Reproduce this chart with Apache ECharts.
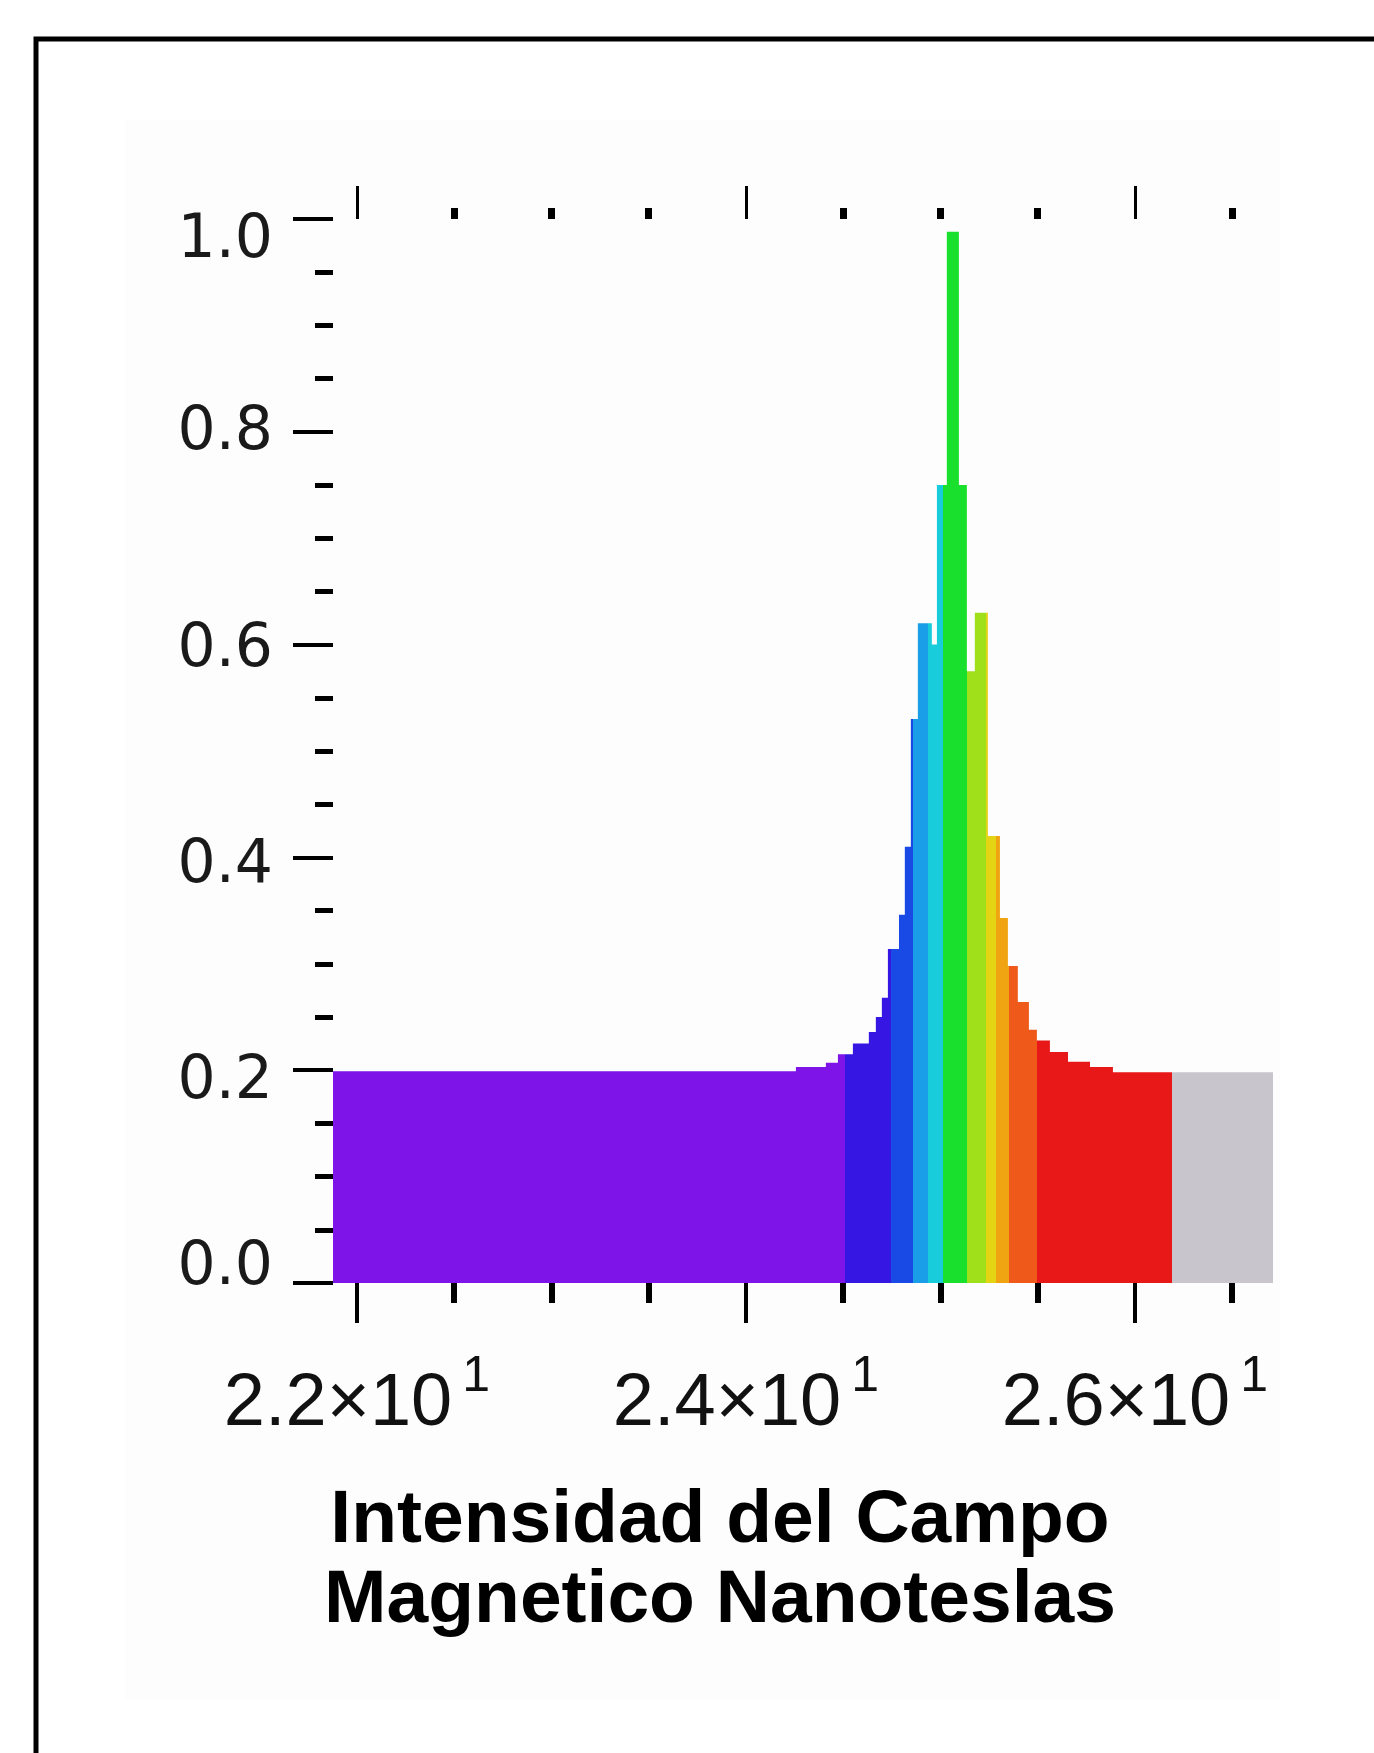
<!DOCTYPE html>
<html>
<head>
<meta charset="utf-8">
<title>Intensidad del Campo Magnetico</title>
<script src="https://cdn.jsdelivr.net/npm/echarts@6/dist/echarts.min.js"></script>
<style>
  html, body { margin: 0; padding: 0; background: #fff; }
  #chart { width: 1374px; height: 1753px; }
</style>
</head>
<body>
<div id="chart"></div>
<script>
// bordes de los intervalos del histograma (x10^1 nT) y alturas normalizadas
const binEdges = [21.877, 24.257, 24.411, 24.473, 24.550, 24.632, 24.668, 24.699, 24.730,
  24.787, 24.817, 24.848, 24.884, 24.956, 24.982, 25.033, 25.095, 25.136, 25.177,
  25.244, 25.306, 25.347, 25.398, 25.455, 25.496, 25.563, 25.656, 25.769, 25.887, 26.710];
const binHeights = [0.199, 0.203, 0.207, 0.215, 0.225, 0.236, 0.250, 0.268, 0.314,
  0.346, 0.410, 0.530, 0.620, 0.600, 0.750, 0.988, 0.750, 0.575, 0.630,
  0.420, 0.343, 0.298, 0.264, 0.238, 0.228, 0.217, 0.208, 0.203, 0.198];

// bandas de color a lo largo del eje
const bandEdges = [21.877, 24.509, 24.746, 24.859, 24.936, 25.013, 25.136, 25.234,
  25.285, 25.352, 25.496, 26.190, 26.710];
const bandColors = ['#7e14e8', '#3516e2', '#1a4ae6', '#1a9ee8', '#18ccdc', '#18e02c',
  '#a0e01a', '#e4d414', '#f0a412', '#ef5a1a', '#e81818', '#c8c6cc'];

const xMajorTicks = [22, 24, 26];
const xMinorTicks = [22.5, 23, 23.5, 24.5, 25, 25.5, 26.5];
const yTicks = [0, 0.2, 0.4, 0.6, 0.8, 1.0];
const xMin = 21.877;
const xMax = 26.71;

const chart = echarts.init(document.getElementById("chart"));

// puntos escalonados: borde izquierdo de cada intervalo + cierre
const stepData = binHeights.map((h, i) => [binEdges[i], h]);
stepData.push([binEdges[binEdges.length - 1], binHeights[binHeights.length - 1]]);

const pieces = bandColors.map((c, i) => {
  const p = { gte: bandEdges[i], color: c };
  if (i === bandColors.length - 1) p.lte = bandEdges[i + 1];
  else p.lt = bandEdges[i + 1];
  return p;
});

const tickLine = (w) => ({ show: true, lineStyle: { color: "#000", width: w } });

const formatX = (v) => {
  const exp = Math.floor(Math.log10(v));
  const mant = (v / Math.pow(10, exp)).toFixed(1);
  return "{m|" + mant + "×10}{e|" + exp + "}";
};

// desplazamiento vertical de cada etiqueta del eje y (como en la imagen)
const yLabelShift = [-15, 12, 9, 6, 2, 22];
const yRich = {};
yTicks.forEach((t, i) => {
  const d = yLabelShift[i];
  yRich["l" + i] = {
    fontFamily: "DejaVu Sans",
    fontSize: 60,
    color: "#1a1a1a",
    lineHeight: 64,
    padding: d >= 0 ? [2 * d, 0, 0, 0] : [0, 0, -2 * d, 0],
  };
});
const formatY = (v) => {
  const i = yTicks.findIndex((t) => Math.abs(t - v) < 1e-6);
  return "{l" + i + "|" + v.toFixed(1) + "}";
};

const option = {
  animation: false,
  backgroundColor: "#fff",
  grid: {
    left: 333,
    right: 101,
    top: 219,
    bottom: 470,
    containLabel: false,
    outerBoundsMode: "none",
  },
  xAxis: [
    {
      // ticks principales + etiquetas
      type: "value",
      position: "bottom",
      min: xMin,
      max: xMax,
      axisLine: { show: false },
      splitLine: { show: false },
      axisTick: Object.assign(tickLine(4), { length: 40, customValues: xMajorTicks }),
      axisLabel: {
        customValues: xMajorTicks,
        margin: 69,
        formatter: formatX,
        rich: {
          m: {
            fontFamily: "Liberation Sans",
            fontSize: 74,
            color: "#111",
            lineHeight: 90,
            verticalAlign: "bottom",
          },
          e: {
            fontFamily: "Liberation Sans",
            fontSize: 50,
            color: "#111",
            lineHeight: 34,
            verticalAlign: "top",
            padding: [0, 0, 0, 10],
          },
        },
      },
    },
    {
      // ticks secundarios abajo
      type: "value",
      position: "bottom",
      min: xMin,
      max: xMax,
      axisLine: { show: false },
      splitLine: { show: false },
      axisLabel: { show: false },
      axisTick: Object.assign(tickLine(6), { length: 20, customValues: xMinorTicks }),
    },
    {
      type: "value",
      position: "top",
      min: xMin,
      max: xMax,
      axisLine: { show: false },
      splitLine: { show: false },
      axisLabel: { show: false },
      axisTick: Object.assign(tickLine(3), { length: 33, customValues: xMajorTicks }),
    },
    {
      type: "value",
      position: "top",
      min: xMin,
      max: xMax,
      axisLine: { show: false },
      splitLine: { show: false },
      axisLabel: { show: false },
      axisTick: Object.assign(tickLine(7), { length: 11, customValues: xMinorTicks }),
    },
  ],
  yAxis: {
    type: "value",
    min: 0,
    max: 1,
    interval: 0.2,
    axisLine: { show: false },
    splitLine: { show: false },
    axisTick: Object.assign(tickLine(4), { length: 40 }),
    minorTick: { show: true, splitNumber: 4, length: 18, lineStyle: { color: "#000", width: 5 } },
    minorSplitLine: { show: false },
    axisLabel: {
      margin: 60,
      formatter: formatY,
      rich: yRich,
    },
  },
  visualMap: {
    show: false,
    type: "piecewise",
    dimension: 0,
    seriesIndex: 0,
    pieces: pieces,
  },
  series: [
    {
      type: "line",
      xAxisIndex: 0,
      step: "end",
      symbol: "none",
      silent: true,
      lineStyle: { width: 0 },
      areaStyle: { opacity: 1 },
      data: stepData,
    },
  ],
  graphic: [
    {
      type: "rect",
      z: -10,
      shape: { x: 125, y: 120, width: 1155, height: 1580 },
      style: { fill: "#fdfdfd" },
    },
    {
      type: "rect",
      shape: { x: 36, y: 39, width: 2000, height: 2000 },
      style: { fill: "none", stroke: "#000", lineWidth: 5 },
    },
    {
      type: "text",
      x: 720,
      y: 1481,
      style: {
        text: "Intensidad del Campo\nMagnetico Nanoteslas",
        fontFamily: "Liberation Sans",
        fontWeight: "bold",
        fontSize: 75,
        lineHeight: 80,
        fill: "#000",
        align: "center",
        verticalAlign: "top",
        textAlign: "center",
        textVerticalAlign: "top",
      },
    },
  ],
};

chart.setOption(option);
</script>
</body>
</html>
